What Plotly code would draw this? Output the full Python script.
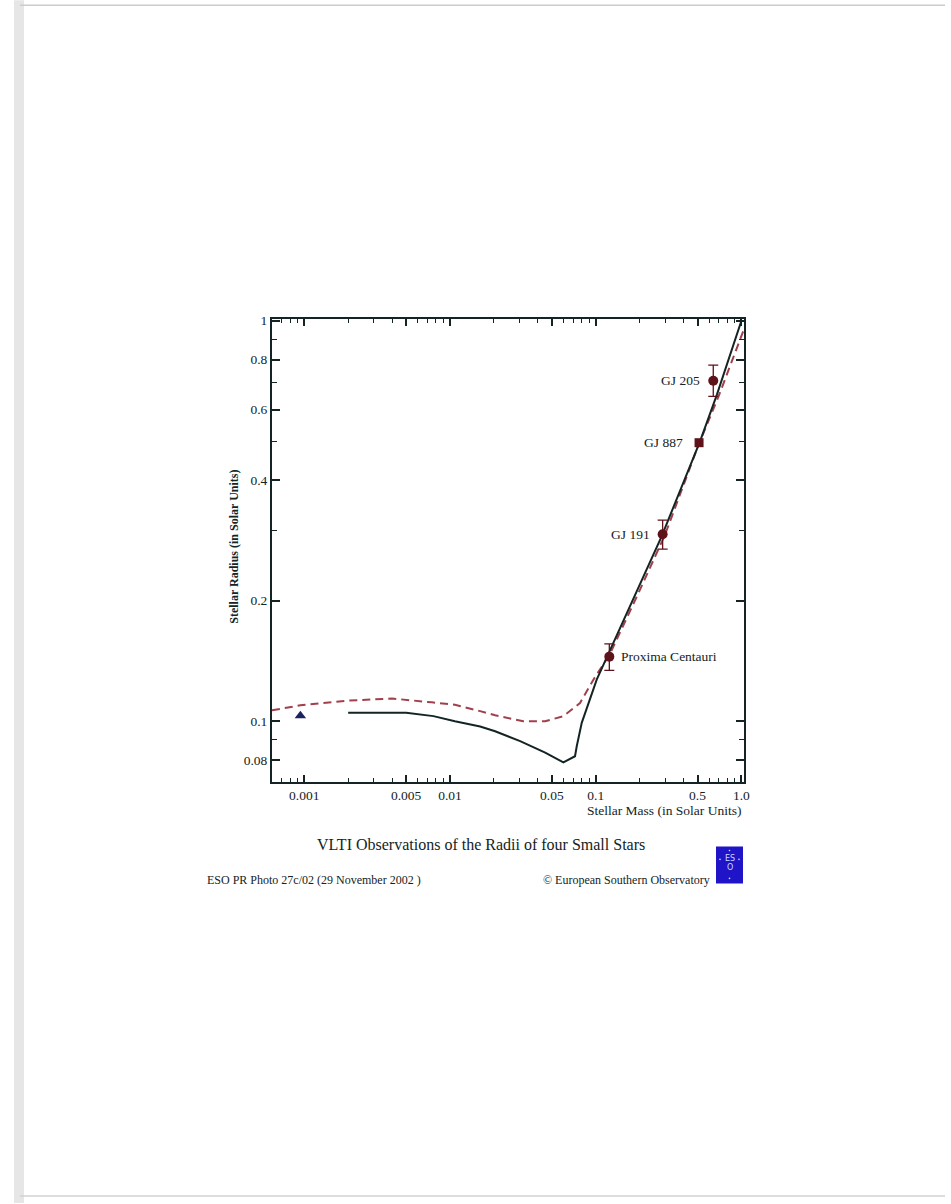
import numpy as np
import plotly.graph_objects as go

# ---------------- data ----------------
solid_mass = [0.002, 0.005, 0.0077, 0.0108, 0.0161, 0.0204, 0.0303, 0.045, 0.06, 0.0721,
              0.0741, 0.0802, 0.1016, 0.1357, 0.284, 0.52, 0.678, 1.0]
solid_radius = [0.105, 0.105, 0.103, 0.100, 0.097, 0.0944, 0.0892, 0.0835, 0.079, 0.0818,
                0.0866, 0.0991, 0.127, 0.16, 0.29, 0.50, 0.653, 1.0]

dash_mass = [0.0006, 0.00094, 0.002, 0.004, 0.0075, 0.0108, 0.0161, 0.0204, 0.0318, 0.045,
             0.06, 0.078, 0.0964, 0.125, 0.2, 0.3, 0.5, 0.7, 1.05]
dash_radius = [0.1065, 0.1096, 0.1126, 0.114, 0.1115, 0.110, 0.106, 0.1035, 0.100, 0.100,
               0.103, 0.111, 0.127, 0.147, 0.212, 0.293, 0.483, 0.65, 0.96]

star_names = ["Proxima Centauri", "GJ 191", "GJ 887", "GJ 205"]
star_mass = [0.124, 0.288, 0.512, 0.641]
star_radius = [0.145, 0.293, 0.496, 0.708]
star_err_plus = [0.011, 0.025, 0.0, 0.067]
star_err_minus = [0.011, 0.024, 0.0, 0.061]

tri_mass = [0.00094]
tri_radius = [0.1033]

x_tickvals = [0.001, 0.005, 0.01, 0.05, 0.1, 0.5, 1.0]
x_ticktext = ["0.001", "0.005", "0.01", "0.05", "0.1", "0.5", "1.0"]
x_minor = [0.0007, 0.0008, 0.0009, 0.002, 0.003, 0.004, 0.006, 0.007, 0.008, 0.009,
           0.02, 0.03, 0.04, 0.06, 0.07, 0.08, 0.09, 0.2, 0.3, 0.4, 0.6, 0.7, 0.8, 0.9]
y_tickvals = [0.08, 0.1, 0.2, 0.4, 0.6, 0.8, 1]
y_ticktext = ["0.08", "0.1", "0.2", "0.4", "0.6", "0.8", "1"]
y_minor = [0.09, 0.3, 0.5, 0.7, 0.9]

title_text = "VLTI Observations of the Radii of four Small Stars"
x_title = "Stellar Mass (in Solar Units)"
y_title = "Stellar Radius (in Solar Units)"
footer_left = "ESO PR Photo 27c/02 (29 November 2002 )"
footer_right = "\u00a9 European Southern Observatory"

# ---------------- styling ----------------
INK = "#142424"
MAROON = "#5e1219"
DASH = "#a0404c"
FONT = "Liberation Serif"

W, H = 951, 1204
L, R, T, B = 272, 744, 319, 782.5


def px(xp):
    return (xp - L) / (R - L)


def py(yp):
    return (B - yp) / (B - T)


fig = go.Figure()

fig.add_trace(go.Scatter(x=dash_mass, y=dash_radius, mode="lines",
                         line=dict(color=DASH, width=2, dash="8px,5px"),
                         hoverinfo="skip", showlegend=False))
fig.add_trace(go.Scatter(x=solid_mass, y=solid_radius, mode="lines",
                         line=dict(color=INK, width=2),
                         hoverinfo="skip", showlegend=False))

circ_idx = [0, 1, 3]
fig.add_trace(go.Scatter(
    x=[star_mass[i] for i in circ_idx], y=[star_radius[i] for i in circ_idx],
    mode="markers",
    marker=dict(symbol="circle", size=10, color=MAROON),
    error_y=dict(type="data", symmetric=False,
                 array=[star_err_plus[i] for i in circ_idx],
                 arrayminus=[star_err_minus[i] for i in circ_idx],
                 color=MAROON, thickness=1.3, width=5),
    showlegend=False))
fig.add_trace(go.Scatter(x=[star_mass[2]], y=[star_radius[2]], mode="markers",
                         marker=dict(symbol="square", size=9, color=MAROON),
                         showlegend=False))
fig.add_trace(go.Scatter(x=tri_mass, y=tri_radius, mode="markers",
                         marker=dict(symbol="triangle-up", size=10, color="#1c2160"),
                         showlegend=False))

# star labels
label_shift = [10, -11, -14, -11]
label_anchor = ["left", "right", "right", "right"]
for name, m, r, s, a in zip(star_names, star_mass, star_radius, label_shift, label_anchor):
    fig.add_annotation(x=np.log10(m), y=np.log10(r), text=name, showarrow=False,
                       xanchor=a, yanchor="middle", xshift=s,
                       font=dict(family=FONT, size=13.5, color=INK))

# titles and footer
fig.add_annotation(xref="paper", yref="paper", x=px(744), y=py(811), text=x_title,
                   showarrow=False, xanchor="right", yanchor="middle",
                   font=dict(family=FONT, size=13.5, color=INK))
fig.add_annotation(xref="paper", yref="paper", x=px(234), y=py(547), text="<b>" + y_title + "</b>",
                   showarrow=False, textangle=-90, xanchor="center", yanchor="middle",
                   font=dict(family=FONT, size=12, color=INK))
fig.add_annotation(xref="paper", yref="paper", x=px(481), y=py(845), text=title_text,
                   showarrow=False, xanchor="center", yanchor="middle",
                   font=dict(family=FONT, size=16, color=INK))
fig.add_annotation(xref="paper", yref="paper", x=px(205), y=py(881), text=footer_left,
                   showarrow=False, xanchor="left", yanchor="middle",
                   font=dict(family=FONT, size=12, color=INK))
fig.add_annotation(xref="paper", yref="paper", x=px(712), y=py(881), text=footer_right,
                   showarrow=False, xanchor="right", yanchor="middle",
                   font=dict(family=FONT, size=12, color=INK))

# ESO logo
fig.add_shape(type="rect", xref="paper", yref="paper",
              x0=px(716), x1=px(743), y0=py(884), y1=py(847),
              fillcolor="#1f14c8", line=dict(width=0), layer="above")
fig.add_annotation(xref="paper", yref="paper", x=px(729.5), y=py(859), text="ES",
                   showarrow=False, xanchor="center", yanchor="middle",
                   font=dict(family="DejaVu Sans", size=8, color="#c8d8ff"))
fig.add_annotation(xref="paper", yref="paper", x=px(729.5), y=py(868), text="O",
                   showarrow=False, xanchor="center", yanchor="middle",
                   font=dict(family="DejaVu Sans", size=8, color="#c8d8ff"))
for dx, dy in [(720, 860), (739, 860), (729.5, 851), (729.5, 879)]:
    fig.add_shape(type="circle", xref="paper", yref="paper",
                  x0=px(dx - 0.8), x1=px(dx + 0.8), y0=py(dy + 0.8), y1=py(dy - 0.8),
                  fillcolor="#c8d8ff", line=dict(width=0), layer="above")

# scan page artefacts
fig.add_shape(type="rect", xref="paper", yref="paper", x0=px(14), x1=px(24), y0=py(1204), y1=py(0),
              fillcolor="#e6e6e6", line=dict(width=0), layer="below")
fig.add_shape(type="line", xref="paper", yref="paper", x0=px(20), x1=px(945), y0=py(5), y1=py(5),
              line=dict(color="#cccccc", width=1.5))
fig.add_shape(type="line", xref="paper", yref="paper", x0=px(20), x1=px(945), y0=py(1197), y1=py(1197),
              line=dict(color="#d2d2d2", width=1.5))

axis_common = dict(type="log", showgrid=False, zeroline=False, showline=True,
                   linecolor=INK, linewidth=2, mirror="ticks", ticks="inside",
                   tickcolor=INK, tickwidth=1.5,
                   tickfont=dict(family=FONT, size=13.5, color=INK))

fig.update_xaxes(**axis_common, range=[-3.2217, 0.0178], tickvals=x_tickvals,
                 ticktext=x_ticktext, ticklen=7,
                 minor=dict(ticks="inside", tickvals=x_minor, ticklen=4,
                            tickcolor=INK, tickwidth=1.2))
fig.update_yaxes(**axis_common, range=[-1.1516, 0.0043], tickvals=y_tickvals,
                 ticktext=y_ticktext, ticklen=8,
                 minor=dict(ticks="inside", tickvals=y_minor, ticklen=5,
                            tickcolor=INK, tickwidth=1.2))

fig.update_layout(width=W, height=H, autosize=False,
                  margin=dict(l=L, r=W - R, t=T, b=H - B, pad=0),
                  paper_bgcolor="white", plot_bgcolor="white",
                  showlegend=False)

fig.write_html("out.html")
